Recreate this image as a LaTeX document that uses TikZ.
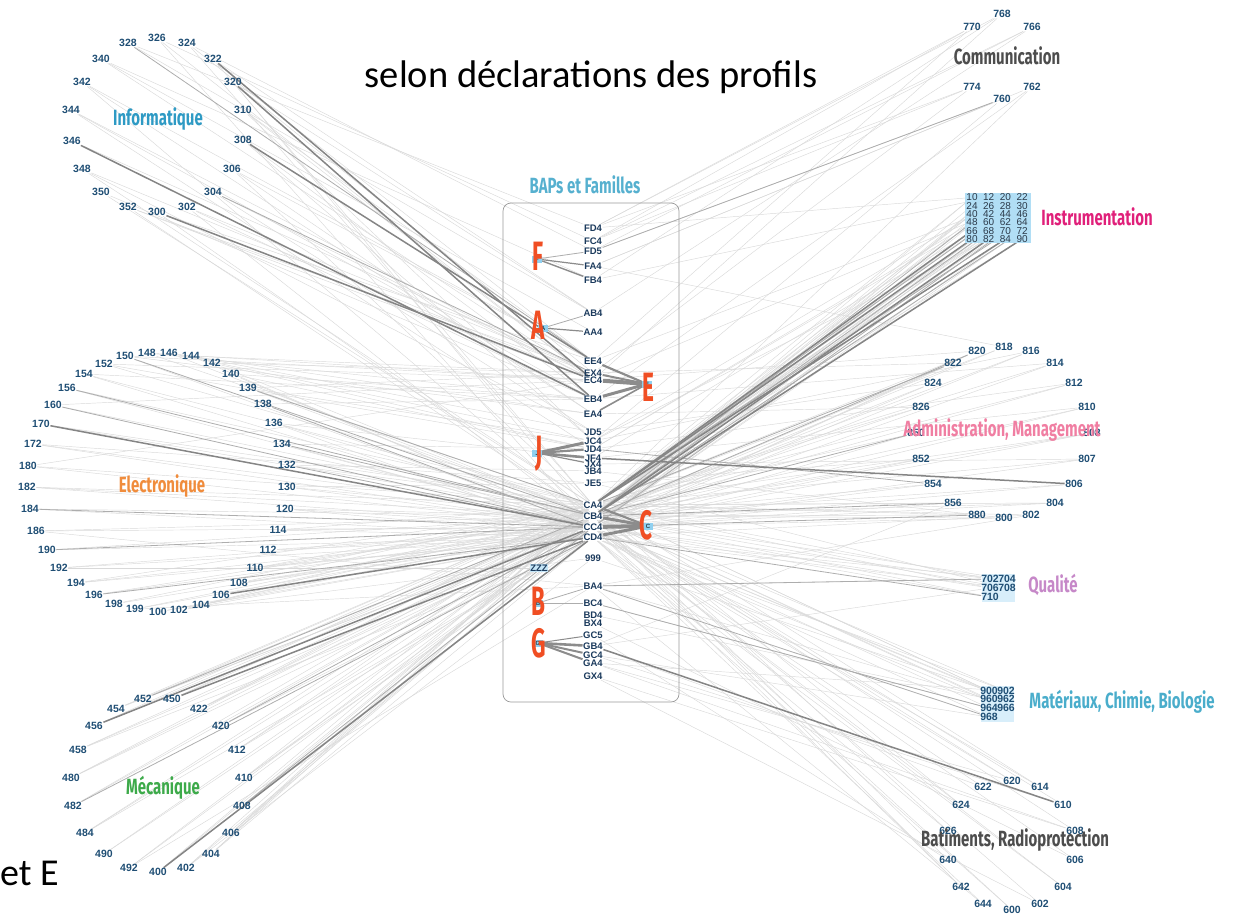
\documentclass[tikz,border=0pt]{standalone}
\usepackage{fontspec}
\setmainfont{Liberation Sans}
\newfontfamily\calfont{Carlito}
\newfontfamily\condfont[FakeStretch=0.68]{Fira Sans}
\newfontfamily\letfont[FakeStretch=0.55]{Fira Sans}

\definecolor{numblue}{HTML}{1F4E74}
\definecolor{subnavy}{HTML}{1B3A5C}
\definecolor{gridnavy}{HTML}{2B3A4A}
\definecolor{sqblue}{HTML}{8FD0F0}
\definecolor{bapred}{HTML}{F04E23}
\definecolor{infoblue}{HTML}{2E9AC4}
\definecolor{elecorange}{HTML}{F08C3C}
\definecolor{mecagreen}{HTML}{3DAA4A}
\definecolor{comgray}{HTML}{4D4D4D}
\definecolor{instpink}{HTML}{E0207A}
\definecolor{adminpink}{HTML}{F07EA2}
\definecolor{qualpurple}{HTML}{C688C8}
\definecolor{matblue}{HTML}{4AADCB}
\definecolor{bapsblue}{HTML}{56B0CF}

\pgfdeclarelayer{edges}
\pgfsetlayers{edges,main}

\tikzset{
  num/.style={font=\bfseries\fontsize{10.5}{10.5}\selectfont, text=numblue, inner sep=0.5pt},
  sub/.style={font=\bfseries\fontsize{9.5}{9.5}\selectfont, text=subnavy, inner sep=0.5pt},
  gridnum/.style={font=\fontsize{10}{8}\selectfont, text=gridnavy, inner sep=0pt},
  grp/.style={font=\condfont\bfseries\fontsize{22}{22}\selectfont, inner sep=0pt},
  bap/.style={font=\letfont\bfseries\fontsize{41}{41}\selectfont, text=bapred, inner sep=0pt},
  famsq/.style={fill=sqblue, minimum width=10pt, minimum height=7pt, inner sep=0pt,
    font=\fontsize{6}{6}\selectfont},
  faint/.style={draw=black!15, line width=0.45pt},
  mid/.style={draw=black!32, line width=0.8pt},
  dark/.style={draw=black!48, line width=1.5pt},
  link/.style={draw=black!45, line width=#1},
  link/.default=2.4pt
}

\begin{document}
\begin{tikzpicture}[x=1pt,y=-1pt]
\useasboundingbox (0,0) rectangle (1237,914);

% titles
\node[font=\calfont\fontsize{38.5}{38.5}\selectfont, anchor=base] (title) at (591,87) {selon déclarations des profils};
\node[font=\calfont\fontsize{38}{38}\selectfont, anchor=base west, inner sep=0pt] (etE) at (0,885) {et E};

% Informatique
\foreach \n/\x/\y in {328/128/43, 326/157/38, 324/187/43, 322/213/59, 320/233/82,
    310/243/110, 308/243/140, 306/232/169, 304/213/192, 302/187/207, 300/157/212,
    352/128/207, 350/101/192, 348/82/169, 346/72/141, 344/71/110, 342/82/82, 340/101/59}
  \node[num] (n\n) at (\x,\y) {\n};
\node[grp, text=infoblue] (lblInfo) at (158,119) {Informatique};

% Electronique
\foreach \n/\x/\y in {150/125/356, 148/147/353, 146/169/353, 144/191/356, 142/212/363,
    140/231/374, 139/248/388, 138/263/404, 136/274/423, 134/282/444, 132/287/465,
    130/287/487, 120/285/509, 114/278/530, 112/268/550, 110/255/568, 108/239/583,
    106/221/595, 104/201/605, 102/179/610, 100/158/612, 199/135/609, 198/114/604,
    196/94/595, 194/76/583, 192/59/568, 190/47/550, 186/36/531, 184/30/509,
    182/27/487, 180/28/466, 172/33/444, 170/41/424, 160/53/405, 156/67/388,
    154/84/374, 152/104/364}
  \node[num] (n\n) at (\x,\y) {\n};
\node[grp, text=elecorange] (lblElec) at (162,486) {Electronique};

% Mecanique
\foreach \n/\x/\y in {452/143/699, 450/172/699, 422/199/709, 420/221/726, 412/237/750,
    410/244/778, 408/242/806, 406/231/833, 404/211/854, 402/186/868, 400/158/872,
    492/129/868, 490/104/854, 484/85/833, 482/73/806, 480/71/778, 458/78/750,
    456/94/726, 454/116/709}
  \node[num] (n\n) at (\x,\y) {\n};
\node[grp, text=mecagreen] (lblMeca) at (163,788) {Mécanique};

% BAPs et familles
\node[grp, text=bapsblue] (lblBaps) at (585,185) {BAPs et Familles};
\node[draw=black!40, line width=0.7pt, rounded corners=8pt, minimum width=176pt,
  minimum height=499pt] (bapbox) at (591,452.5) {};
\foreach \s/\y in {FD4/228, FC4/241, FD5/251, FA4/266, FB4/280, AB4/313, AA4/332,
    EE4/361, EX4/373, EC4/380, EB4/399, EA4/414, JD5/432, JC4/441, JD4/449,
    JF4/458, JX4/464, JB4/471, JE5/483, CA4/505, CB4/516, CC4/527, CD4/537,
    999/558, BA4/586, BC4/603, BD4/615, BX4/623, GC5/635, GB4/646, GC4/655,
    GA4/663, GX4/676}
  \node[sub] (\s) at (593,\y) {\s};
\node[sub, fill=sqblue!50] (ZZZ) at (539,568) {ZZZ};
\foreach \f/\x/\y/\lx/\ly in {F/537/259/538/256, A/543/328/538/325, E/647/384/648/387,
    J/537/453/539/454, C/648/526/646/525, B/538/603/538/601, G/538/643/539/643} {
  \node[famsq] (fam\f) at (\x,\y) {\f};
  \node[bap] (let\f) at (\lx,\ly) {\f};
}

% Communication
\foreach \n/\x/\y in {768/1002/14, 770/972/27, 766/1032/27, 774/972/87, 762/1032/87, 760/1002/99}
  \node[num] (n\n) at (\x,\y) {\n};
\node[grp, text=comgray] (lblCom) at (1007,56) {Communication};

% Instrumentation
\fill[sqblue!70] (965,193) rectangle (1031,243);
\foreach \row [count=\r from 0] in {{10,12,20,22},{24,26,28,30},{40,42,44,46},
    {48,60,62,64},{66,68,70,72},{80,82,84,90}}
  \foreach \n [count=\c from 0] in \row
    \node[gridnum] (n\n) at (972+16.7*\c,197.5+8.3*\r) {\n};
\node[grp, text=instpink] (lblInst) at (1097,217) {Instrumentation};

% Administration, Management
\foreach \n/\x/\y in {820/977/351, 818/1004/347, 816/1031/351, 814/1055/363, 812/1074/383,
    810/1087/407, 808/1092/433, 807/1087/459, 806/1074/484, 804/1055/503, 802/1031/515,
    800/1004/518, 880/977/515, 856/953/503, 854/933/484, 852/921/459, 850/916/433,
    826/921/407, 824/933/383, 822/953/363}
  \node[num] (n\n) at (\x,\y) {\n};
\node[grp, text=adminpink] (lblAdmin) at (1002,430) {Administration, Management};

% Qualite
\fill[sqblue!35] (982,574) rectangle (1015,602);
\foreach \n/\x/\y in {702/990/579, 704/1007/579, 706/990/588, 708/1007/588, 710/990/597}
  \node[num, inner sep=0pt] (n\n) at (\x,\y) {\n};
\node[grp, text=qualpurple] (lblQual) at (1053,585) {Qualité};

% Materiaux, Chimie, Biologie
\fill[sqblue!35] (981,686) rectangle (1014,722);
\foreach \n/\x/\y in {900/989/691, 902/1006/691, 960/989/699, 962/1006/699,
    964/989/708, 966/1006/708, 968/989/717}
  \node[num, inner sep=0pt] (n\n) at (\x,\y) {\n};
\node[grp, text=matblue] (lblMat) at (1122,702) {Matériaux, Chimie, Biologie};

% Batiments, Radioprotection
\foreach \n/\x/\y in {620/1012/781, 622/983/787, 614/1040/787, 610/1063/805, 624/961/805,
    608/1075/831, 626/948/831, 606/1075/860, 640/948/860, 604/1063/887, 642/961/887,
    602/1040/904, 644/983/904, 600/1012/910}
  \node[num] (n\n) at (\x,\y) {\n};
\node[grp, text=comgray] (lblBat) at (1015,840) {Batiments, Radioprotection};

% connectors
\begin{pgfonlayer}{edges}
  \foreach \a/\b in {n328/FD4, n326/EC4, n326/CC4, n324/EE4, n324/CA4, n340/AA4, n340/FB4,
      n342/EA4, n342/CB4, n344/EB4, n344/JD4, n348/JD5, n348/EC4, n350/CA4, n352/CB4,
      n352/EX4, n302/EX4, n302/CC4, n304/EC4, n306/CA4, n306/EE4, n310/EE4, n310/JC4,
      n320/AB4, n320/CB4, n322/CA4, n308/JC4, n300/CB4,
      n326/FC4, n324/FD5, n322/AB4, n320/EX4, n310/EC4, n308/EB4, n306/EA4, n304/JD5,
      n302/EB4, n300/EE4, n352/EC4, n350/EB4, n348/CA4, n346/EX4, n344/EC4, n342/EE4,
      n340/EC4, n328/AB4,
      n148/CA4, n148/EC4, n146/EA4, n146/CB4, n144/JD5, n144/CC4, n142/CB4, n142/EX4,
      n140/CC4, n140/JD4, n139/JC4, n139/EX4, n136/CB4, n136/CD4, n134/CC4, n132/CA4,
      n130/CC4, n130/JE5, n120/CB4, n120/CC4, n114/CD4, n114/CA4, n112/CC4, n110/CB4,
      n110/CD4, n108/CD4, n108/CA4, n104/CC4, n102/999, n102/CB4, n100/CD4, n199/BA4,
      n199/CC4, n198/CC4, n196/CB4, n194/CA4, n194/CC4, n192/ZZZ, n192/CD4, n190/CB4,
      n186/CC4, n186/BA4, n184/CB4, n182/CB4, n182/CC4, n180/EC4, n180/CA4, n172/JE5,
      n172/CC4, n170/CB4, n160/CB4, n156/CA4, n154/EB4, n154/CC4, n152/CA4, n152/JD4,
      n150/EA4,
      n150/EC4, n148/EB4, n146/JC4, n144/EX4, n142/JD4, n140/EB4, n139/CB4, n138/EB4,
      n136/JF4, n134/JD4, n132/JB4, n130/CB4, n120/CD4, n114/CC4, n112/CD4, n110/CA4,
      n108/CC4, n106/CB4, n104/CA4, n102/CD4, n100/CC4, n199/CB4, n198/CA4, n196/CC4,
      n194/CD4, n192/CC4, n190/CD4, n186/CB4, n184/CD4, n182/CA4, n180/CC4, n172/CB4,
      n170/CA4, n160/EC4, n156/CC4, n154/CA4, n152/EC4, n150/CC4,
      n454/CC4, n454/CB4, n452/CA4, n450/CB4, n422/CA4, n422/CC4, n420/CB4, n412/CB4,
      n412/CD4, n410/CD4, n410/CA4, n408/CB4, n406/CB4, n406/CC4, n404/CD4, n404/CA4,
      n402/CA4, n402/999, n400/CB4, n492/CC4, n492/BA4, n490/CB4, n484/CD4, n484/CA4,
      n482/CA4, n480/CC4, n480/CB4, n458/ZZZ, n458/CC4, n456/CB4,
      n454/CA4, n452/CC4, n450/CA4, n422/CB4, n420/CD4, n412/CA4, n410/CC4, n408/CD4,
      n406/CA4, n404/CB4, n402/CC4, n400/CA4, n492/CB4, n490/CC4, n484/CB4, n482/CB4,
      n480/CA4, n458/CB4, n456/CA4,
      n770/FC4, n770/EE4, n768/FB4, n768/FD4, n766/FC4, n766/AB4, n774/FD4, n774/EX4,
      n762/FA4, n762/CA4, n760/FD5, n760/JC4, n770/FD4, n768/EC4, n766/FD5, n774/FC4,
      n762/EB4, n760/FA4,
      n10/CA4, n12/CB4, n20/CC4, n22/CA4, n24/CB4, n26/JC4, n28/JD4, n30/CA4, n40/CB4,
      n42/EC4, n44/CC4, n46/CA4, n62/CB4, n64/JC4, n10/FD4, n22/EE4, n12/FB4,
      n10/CB4, n12/CC4, n20/CA4, n26/CB4, n28/CA4, n30/CC4, n40/CA4, n44/CB4, n46/CC4,
      n62/CA4, n66/CB4, n70/CA4, n72/CC4, n80/CB4, n82/CC4, n84/CC4, n90/CA4, n48/JD4,
      n60/JF4,
      n820/CA4, n820/EC4, n818/CB4, n818/FA4, n816/CC4, n816/JC4, n814/CA4, n814/EB4,
      n812/CB4, n812/JD4, n810/CC4, n810/JF4, n808/CA4, n808/CB4, n807/CC4, n807/JX4,
      n806/CB4, n804/CC4, n804/CA4, n802/CD4, n802/BA4, n800/CC4, n800/JB4, n880/CB4,
      n856/CA4, n856/GB4, n854/CC4, n852/CB4, n852/JE5, n850/CC4, n826/CA4, n826/EA4,
      n824/CB4, n824/JD5, n822/CC4, n822/EX4,
      n820/CC4, n818/CA4, n816/CB4, n814/CC4, n812/CA4, n810/CB4, n808/CC4, n807/CA4,
      n806/CC4, n804/CB4, n802/CA4, n800/CB4, n880/CA4, n856/CC4, n854/CB4, n852/CC4,
      n850/CA4, n826/CB4, n824/CC4, n822/CB4,
      n702/CA4, n704/CB4, n706/CC4, n708/CD4, n710/CC4, n702/BA4, n706/GB4, n708/JE5,
      n702/CC4, n704/CD4, n706/CA4, n708/CB4, n710/CB4,
      n900/CA4, n902/CB4, n960/BA4, n962/CC4, n964/BC4, n966/CD4, n968/GC4, n900/999,
      n902/GA4, n960/BD4, n900/CC4, n902/CD4, n960/CB4, n962/CA4, n964/CC4, n966/CB4,
      n968/CD4,
      n620/CB4, n622/GB4, n614/CC4, n610/GC4, n624/CA4, n608/GA4, n626/CD4, n606/BX4,
      n640/GC5, n604/CC4, n642/CB4, n602/GX4, n644/BA4, n600/CD4, n620/GA4, n622/CC4,
      n608/GX4, n620/CC4, n614/CA4, n610/CB4, n624/CC4, n608/CB4, n626/CA4, n606/CC4,
      n640/CB4, n604/CD4, n642/CC4, n602/CB4, n644/CD4, n600/CC4}
    \draw[faint] (\a) -- (\b);
  \foreach \a/\b in {n328/EE4, n304/EX4, n156/CB4, n150/CB4, n138/CC4, n139/CA4,
      n184/CC4, n190/CC4, n196/CD4, n482/CD4, n420/CC4, n408/CC4, n452/CB4, n134/CB4,
      n132/CC4, n160/CC4, n48/CB4, n60/CA4, n70/CC4, n72/CB4, n68/CB4, n64/CA4,
      n820/CB4, n822/CA4, n880/CC4, n856/CB4, n854/JD4, n850/CB4, n968/BA4, n964/BC4,
      n702/BA4, n710/CD4, n760/FD5, famF/FD5, famA/AB4, famB/BA4, famB/BC4}
    \draw[mid] (\a) -- (\b);
  \foreach \a/\b in {n322/EC4, n320/EB4, n346/EB4, n300/EC4, n308/EE4, n170/CC4,
      n106/CD4, n400/CD4, n456/CC4, n450/CD4, JF4/n806, GB4/n610, n80/CA4, n82/CB4,
      n66/CA4, n84/CA4, n90/CB4}
    \draw[dark] (\a) -- (\b);
  \foreach \f/\s/\w in {F/FA4/1.2, F/FB4/1.4, A/AA4/1.2, E/EE4/2.2, E/EX4/2, E/EC4/4,
      E/EB4/3, E/EA4/1.6, J/JC4/3, J/JD4/2.2, J/JF4/2.6, J/JX4/1.2, C/CA4/2.2,
      C/CB4/3, C/CC4/4, C/CD4/3, G/GB4/2.6, G/GC4/2, G/GA4/2, G/GC5/1}
    \draw[link=\w pt] (fam\f) -- (\s);
\end{pgfonlayer}
\end{tikzpicture}
\end{document}
